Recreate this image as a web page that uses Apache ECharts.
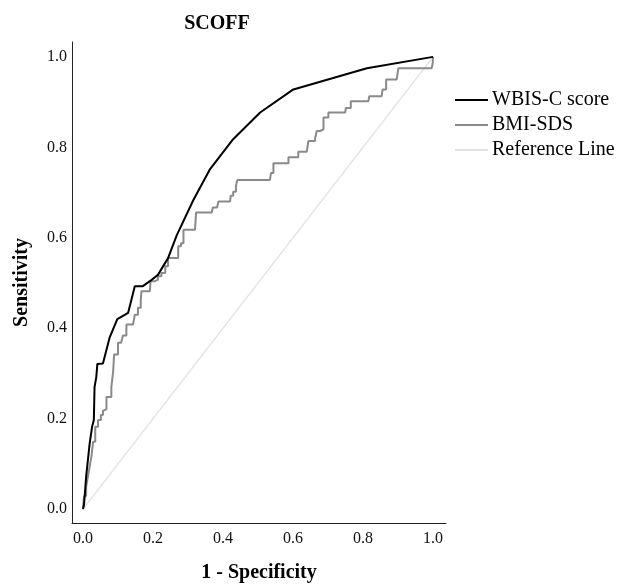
<!DOCTYPE html>
<html>
<head>
<meta charset="utf-8">
<script src="https://cdn.jsdelivr.net/npm/echarts@6/dist/echarts.min.js"></script>
<style>html,body{margin:0;padding:0;background:#fff}#c{width:619px;height:588px}</style>
</head>
<body>
<div id="c"></div>
<script>
var titleText = 'SCOFF';
var xName = '1 - Specificity';
var yName = 'Sensitivity';
var tickValues = [0, 0.2, 0.4, 0.6, 0.8, 1.0];
var seriesNames = ['WBIS-C score', 'BMI-SDS', 'Reference Line'];

var wbisC = [[0,0],[0.003,0.01],[0.009,0.072],[0.019,0.145],[0.026,0.182],[0.031,0.197],[0.033,0.27],[0.038,0.292],[0.041,0.321],[0.057,0.322],[0.076,0.379],[0.098,0.42],[0.129,0.434],[0.148,0.493],[0.171,0.493],[0.191,0.504],[0.214,0.518],[0.243,0.555],[0.268,0.606],[0.315,0.683],[0.363,0.752],[0.429,0.818],[0.506,0.877],[0.601,0.928],[0.811,0.975],[1,1]];

var bmiSds = [[0,0],[0.003,0.029],[0.009,0.05],[0.014,0.072],[0.019,0.094],[0.024,0.116],[0.029,0.149],[0.035,0.154],[0.035,0.182],[0.043,0.197],[0.051,0.208],[0.057,0.217],[0.062,0.221],[0.067,0.248],[0.081,0.248],[0.081,0.27],[0.086,0.303],[0.089,0.342],[0.1,0.368],[0.109,0.368],[0.114,0.384],[0.119,0.384],[0.124,0.408],[0.143,0.408],[0.148,0.43],[0.157,0.445],[0.165,0.463],[0.167,0.482],[0.191,0.482],[0.193,0.504],[0.205,0.507],[0.214,0.515],[0.224,0.522],[0.235,0.537],[0.243,0.555],[0.272,0.555],[0.272,0.581],[0.28,0.588],[0.287,0.605],[0.287,0.618],[0.32,0.618],[0.323,0.656],[0.368,0.656],[0.371,0.667],[0.383,0.669],[0.387,0.68],[0.42,0.68],[0.422,0.693],[0.429,0.702],[0.437,0.715],[0.441,0.728],[0.534,0.728],[0.537,0.743],[0.544,0.765],[0.587,0.765],[0.587,0.778],[0.615,0.778],[0.615,0.79],[0.639,0.79],[0.644,0.814],[0.663,0.82],[0.668,0.836],[0.677,0.84],[0.687,0.858],[0.687,0.866],[0.701,0.877],[0.749,0.877],[0.751,0.887],[0.765,0.887],[0.765,0.902],[0.815,0.902],[0.818,0.913],[0.853,0.913],[0.856,0.928],[0.866,0.928],[0.866,0.95],[0.896,0.95],[0.901,0.975],[0.996,0.975],[0.999,0.986],[1,1]];

var refLine = [[0,0],[1,1]];

var font = 'Liberation Serif';
var chart = echarts.init(document.getElementById('c'));
chart.setOption({
  animation: false,
  backgroundColor: '#fff',
  graphic: [{
    type: 'text', x: 217, y: 24,
    style: { text: titleText, font: 'bold 20px "Liberation Serif"', fill: '#000', textAlign: 'center', textVerticalAlign: 'middle' }
  }],
  grid: { left: 72, top: 42, width: 374, height: 485, containLabel: false },
  legend: {
    orient: 'vertical', left: 455, top: 89, itemGap: 3, padding: 0,
    itemWidth: 33, itemHeight: 2, icon: 'rect',
    textStyle: { fontFamily: font, fontSize: 20, color: '#000', lineHeight: 22, padding: [0,0,0,-1] },
    data: seriesNames
  },
  xAxis: {
    type: 'value', min: -0.0314, max: 1.037,
    name: xName, nameLocation: 'middle', nameGap: 40,
    nameTextStyle: { fontFamily: font, fontSize: 20, fontWeight: 'bold', color: '#000' },
    axisLine: { show: true, onZero: false, lineStyle: { color: '#222', width: 1 } },
    axisTick: { show: false },
    splitLine: { show: false },
    axisLabel: { customValues: tickValues, margin: 8, fontFamily: font, fontSize: 16, color: '#111', formatter: function(v){ return v.toFixed(1); } }
  },
  yAxis: {
    type: 'value', min: -0.0307, max: 1.0329,
    name: yName, nameLocation: 'middle', nameGap: 40,
    nameTextStyle: { fontFamily: font, fontSize: 20, fontWeight: 'bold', color: '#000' },
    axisLine: { show: true, onZero: false, lineStyle: { color: '#222', width: 1 } },
    axisTick: { show: false },
    splitLine: { show: false },
    axisLabel: { customValues: tickValues, margin: 5, fontFamily: font, fontSize: 16, color: '#111', formatter: function(v){ return v.toFixed(1); } }
  },
  series: [
    { name: seriesNames[0], type: 'line', data: wbisC, showSymbol: false, color: '#000', lineStyle: { color: '#000', width: 2 }, z: 4 },
    { name: seriesNames[1], type: 'line', data: bmiSds, step: 'end', showSymbol: false, color: '#8a8a8a', lineStyle: { color: '#8a8a8a', width: 2 }, z: 3 },
    { name: seriesNames[2], type: 'line', data: refLine, showSymbol: false, color: '#e3e3e3', lineStyle: { color: '#e3e3e3', width: 1.5 }, z: 2 }
  ]
});
</script>
</body>
</html>
